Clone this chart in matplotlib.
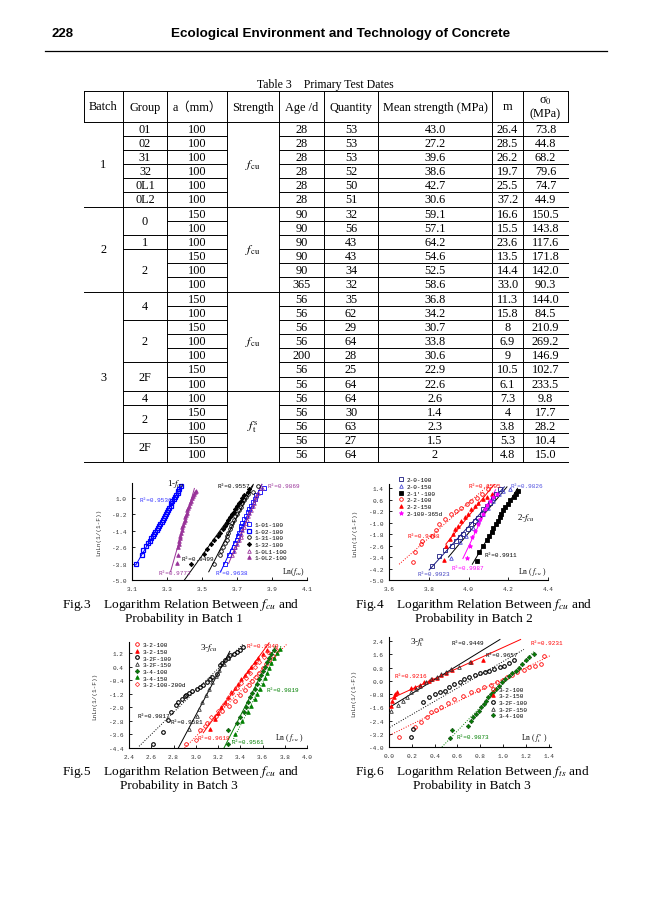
import numpy as np
import matplotlib.pyplot as plt
from matplotlib.font_manager import FontProperties

plt.rcParams['mathtext.fontset'] = 'stix'

SERIF = ['Liberation Serif', 'Noto Sans CJK SC']
MONO = ['Liberation Mono', 'Noto Sans CJK SC']

# ---------------- Table 3 data ----------------
batch = ['1'] * 6 + ['2'] * 6 + ['3'] * 12
group = ['01', '02', '31', '32', '0L1', '0L2',
         '0', '0', '1', '2', '2', '2',
         '4', '4', '2', '2', '2', '2F', '2F', '4', '2', '2', '2F', '2F']
size_mm = ['100'] * 6 + ['150', '100', '100', '150', '100', '100'] + \
          ['150', '100', '150', '100', '100', '150', '100', '100', '150', '100', '150', '100']
strength = ['cu'] * 19 + ['t'] * 5
age = ['28'] * 6 + ['90', '90', '90', '90', '90', '365'] + \
      ['56', '56', '56', '56', '200', '56', '56', '56', '56', '56', '56', '56']
quantity = ['53', '53', '53', '52', '50', '51', '32', '56', '43', '43', '34', '32',
            '35', '62', '29', '64', '28', '25', '64', '64', '30', '63', '27', '64']
mean_str = ['43.0', '27.2', '39.6', '38.6', '42.7', '30.6', '59.1', '57.1', '64.2', '54.6', '52.5', '58.6',
            '36.8', '34.2', '30.7', '33.8', '30.6', '22.9', '22.6', '2.6', '1.4', '2.3', '1.5', '2']
m_val = ['26.4', '28.5', '26.2', '19.7', '25.5', '37.2', '16.6', '15.5', '23.6', '13.5', '14.4', '33.0',
         '11.3', '15.8', '8', '6.9', '9', '10.5', '6.1', '7.3', '4', '3.8', '5.3', '4.8']
sigma0 = ['73.8', '44.8', '68.2', '79.6', '74.7', '44.9', '150.5', '143.8', '117.6', '171.8', '142.0', '90.3',
          '144.0', '84.5', '210.9', '269.2', '146.9', '102.7', '233.5', '9.8', '17.7', '28.2', '10.4', '15.0']

# ---------------- Fig.3 (batch 1) ----------------
f3_01_x = [3.63, 3.655, 3.67, 3.68, 3.69, 3.70, 3.705, 3.71, 3.72, 3.725, 3.73, 3.74, 3.75, 3.76, 3.77,
           3.78, 3.79, 3.80, 3.81, 3.83, 3.855]
f3_01_y = [-3.83, -3.2, -2.85, -2.55, -2.3, -2.05, -1.8, -1.55, -1.3, -1.05, -0.8, -0.55, -0.3, -0.05, 0.2,
           0.45, 0.7, 0.95, 1.2, 1.45, 1.75]
f3_02_x = [3.125, 3.155, 3.165, 3.18, 3.19, 3.20, 3.21, 3.22, 3.225, 3.23, 3.24, 3.25, 3.255, 3.26, 3.27,
           3.275, 3.28, 3.29, 3.295, 3.30, 3.305, 3.31, 3.32, 3.325, 3.33, 3.34, 3.345, 3.35, 3.36, 3.365,
           3.37, 3.38]
f3_02_y = [-3.85, -3.17, -2.8, -2.5, -2.3, -2.12, -1.95, -1.8, -1.65, -1.5, -1.35, -1.2, -1.05, -0.9, -0.75,
           -0.6, -0.45, -0.3, -0.15, 0.0, 0.15, 0.3, 0.45, 0.6, 0.75, 0.9, 1.05, 1.2, 1.35, 1.5, 1.65, 1.85]
f3_31_x = [3.57, 3.6, 3.61, 3.62, 3.63, 3.64, 3.645, 3.65, 3.66, 3.665, 3.67, 3.68, 3.69, 3.70, 3.71,
           3.72, 3.73, 3.74, 3.75, 3.76, 3.79, 3.82]
f3_31_y = [-3.83, -3.17, -2.85, -2.55, -2.3, -2.05, -1.8, -1.55, -1.3, -1.05, -0.8, -0.6, -0.35, -0.15, 0.1,
           0.35, 0.6, 0.85, 1.05, 1.3, 1.45, 1.85]
f3_32_x = [3.437, 3.51, 3.53, 3.55, 3.57, 3.59, 3.60, 3.62, 3.63, 3.64, 3.65, 3.66, 3.67, 3.68, 3.69,
           3.70, 3.71, 3.72, 3.73, 3.74, 3.76, 3.77]
f3_32_y = [-3.83, -3.1, -2.73, -2.4, -2.05, -1.8, -1.55, -1.3, -1.05, -0.85, -0.6, -0.4, -0.2, 0.0, 0.2,
           0.4, 0.6, 0.8, 1.0, 1.2, 1.45, 1.65]
f3_0L1_x = [3.673, 3.68, 3.69, 3.70, 3.71, 3.72, 3.725, 3.73, 3.74, 3.75, 3.755, 3.76, 3.77, 3.78, 3.79,
            3.795, 3.80, 3.81, 3.82, 3.84]
f3_0L1_y = [-3.17, -2.9, -2.6, -2.35, -2.1, -1.85, -1.6, -1.35, -1.1, -0.85, -0.6, -0.35, -0.1, 0.15, 0.4,
            0.65, 0.9, 1.15, 1.4, 1.7]
f3_0L2_x = [3.356, 3.36, 3.362, 3.366, 3.37, 3.373, 3.376, 3.38, 3.384, 3.388, 3.392, 3.396, 3.40, 3.404,
            3.408, 3.412, 3.416, 3.42, 3.425, 3.43, 3.435, 3.44, 3.446, 3.452, 3.458, 3.465]
f3_0L2_y = [-3.78, -3.17, -2.6, -2.35, -2.15, -1.95, -1.75, -1.55, -1.35, -1.15, -0.95, -0.78, -0.6, -0.42,
            -0.25, -0.08, 0.1, 0.27, 0.45, 0.62, 0.8, 0.97, 1.12, 1.27, 1.42, 1.55]

# ---------------- Fig.4 (batch 2) ----------------
f4_0_100_x = [3.817, 3.851, 3.881, 3.919, 3.939, 3.956, 3.973, 3.998, 4.015, 4.032, 4.049, 4.066, 4.075,
              4.092, 4.108, 4.125, 4.139, 4.159]
f4_0_100_y = [-4.0, -3.31, -2.92, -2.61, -2.27, -2.03, -1.8, -1.45, -1.11, -0.87, -0.64, -0.41, -0.06,
              0.17, 0.4, 0.75, 1.03, 1.33]
f4_0_150_x = [3.91, 3.956, 3.986, 4.024, 4.049, 4.075, 4.10, 4.125, 4.151, 4.173, 4.21]
f4_0_150_y = [-3.47, -2.38, -1.92, -1.34, -0.87, -0.41, 0.05, 0.52, 0.98, 1.21, 1.33]
f4_1_100_x = [4.041, 4.054, 4.075, 4.092, 4.105, 4.117, 4.125, 4.137, 4.146, 4.156, 4.163, 4.173, 4.185,
              4.197, 4.21, 4.227, 4.241, 4.247]
f4_1_100_y = [-3.7, -3.08, -2.61, -2.22, -1.92, -1.62, -1.34, -1.11, -0.87, -0.6, -0.36, -0.13, 0.1,
              0.33, 0.56, 0.8, 1.03, 1.21]
f4_2_100_x = [3.719, 3.732, 3.761, 3.766, 3.817, 3.834, 3.854, 3.88, 3.914, 3.939, 3.964, 3.99, 4.015,
              4.041, 4.066, 4.10]
f4_2_100_y = [-3.77, -3.08, -2.5, -2.27, -1.92, -1.52, -1.11, -0.76, -0.41, -0.18, 0.05, 0.29, 0.52,
              0.75, 0.98, 1.33]
f4_2_150_x = [3.876, 3.888, 3.905, 3.922, 3.93, 3.947, 3.964, 3.981, 3.998, 4.015, 4.032, 4.049, 4.075,
              4.092, 4.117]
f4_2_150_y = [-3.59, -2.61, -2.15, -1.8, -1.45, -1.22, -0.87, -0.6, -0.36, -0.06, 0.17, 0.4, 0.63,
              0.8, 0.98]
f4_365_x = [3.993, 4.007, 4.02, 4.032, 4.046, 4.058, 4.071, 4.083, 4.095, 4.108, 4.125, 4.142]
f4_365_y = [-3.43, -2.61, -2.03, -1.57, -1.11, -0.76, -0.36, -0.06, 0.24, 0.52, 0.8, 1.03]

# ---------------- Fig.5 (batch 3, f_cu) ----------------
f5_2_100_x = [2.91, 3.04, 3.10, 3.18, 3.24, 3.30, 3.35, 3.40, 3.44, 3.48, 3.51, 3.54, 3.57, 3.60, 3.63,
              3.66, 3.69, 3.72]
f5_2_100_y = [-4.15, -3.32, -2.9, -2.5, -2.2, -1.9, -1.6, -1.3, -1.0, -0.7, -0.45, -0.2, 0.05, 0.3, 0.55,
              0.8, 1.05, 1.35]
f5_2_150_x = [3.13, 3.17, 3.20, 3.23, 3.26, 3.29, 3.32, 3.35, 3.38, 3.41, 3.44, 3.47, 3.50, 3.53, 3.56,
              3.60, 3.64]
f5_2_150_y = [-3.26, -2.7, -2.35, -2.0, -1.7, -1.4, -1.1, -0.85, -0.6, -0.35, -0.1, 0.15, 0.4, 0.65, 0.9,
              1.15, 1.4]
f5_2F_100_x = [2.618, 2.708, 2.753, 2.775, 2.822, 2.84, 2.874, 2.90, 2.912, 2.94, 2.964, 3.008, 3.04,
               3.068, 3.10, 3.128, 3.15, 3.188, 3.218, 3.24, 3.263, 3.29, 3.308, 3.34, 3.368, 3.40, 3.428]
f5_2F_100_y = [-4.15, -3.46, -2.77, -2.28, -1.89, -1.7, -1.49, -1.35, -1.26, -1.15, -1.06, -0.95, -0.8,
               -0.67, -0.5, -0.31, -0.2, -0.02, 0.47, 0.6, 0.77, 0.9, 1.06, 1.15, 1.26, 1.4, 1.55]
f5_2F_150_x = [2.942, 3.008, 3.03, 3.06, 3.09, 3.12, 3.15, 3.18, 3.21, 3.25, 3.29]
f5_2F_150_y = [-3.26, -2.51, -2.1, -1.7, -1.3, -0.9, -0.5, -0.15, 0.2, 0.55, 0.9]
f5_4_100_x = [3.29, 3.29, 3.37, 3.40, 3.43, 3.45, 3.47, 3.49, 3.51, 3.53, 3.55, 3.57, 3.59, 3.60, 3.62,
              3.64, 3.66, 3.68, 3.70]
f5_4_100_y = [-4.15, -3.36, -2.9, -2.6, -2.3, -2.0, -1.7, -1.4, -1.15, -0.9, -0.6, -0.35, -0.1, 0.15, 0.4,
              0.65, 0.9, 1.15, 1.4]
f5_4_150_x = [3.35, 3.42, 3.47, 3.50, 3.53, 3.55, 3.58, 3.60, 3.62, 3.64, 3.66, 3.68, 3.70, 3.73, 3.76]
f5_4_150_y = [-3.55, -2.8, -2.3, -1.9, -1.5, -1.2, -0.9, -0.6, -0.3, 0.0, 0.3, 0.6, 0.9, 1.2, 1.45]
f5_200d_x = [3.00, 3.08, 3.14, 3.20, 3.25, 3.29, 3.33, 3.37, 3.41, 3.45, 3.49, 3.53, 3.57, 3.61, 3.65]
f5_200d_y = [-3.9, -3.1, -2.6, -2.2, -1.8, -1.45, -1.15, -0.85, -0.55, -0.25, 0.05, 0.35, 0.65, 0.95, 1.25]

# ---------------- Fig.6 (batch 3, f_t^s) ----------------
f6_2_100_x = [0.087, 0.226, 0.284, 0.33, 0.371, 0.41, 0.458, 0.52, 0.574, 0.65, 0.719, 0.78, 0.835, 0.89,
              0.951, 1.0, 1.038, 1.08, 1.125, 1.18, 1.226, 1.28, 1.328, 1.357]
f6_2_100_y = [-3.38, -2.81, -2.51, -2.2, -1.9, -1.75, -1.6, -1.35, -1.1, -0.9, -0.7, -0.55, -0.4, -0.25,
              -0.09, 0.05, 0.21, 0.35, 0.51, 0.65, 0.81, 0.9, 1.01, 1.51]
f6_2_150_x = [0.02, 0.03, 0.04, 0.05, 0.07, 0.19, 0.23, 0.27, 0.31, 0.35, 0.38, 0.42, 0.46, 0.50, 0.55,
              0.72, 0.82]
f6_2_150_y = [-1.55, -1.2, -1.0, -0.8, -0.65, -0.45, -0.35, -0.25, -0.1, 0.0, 0.1, 0.2, 0.35, 0.5, 0.65,
              1.15, 1.25]
f6_2F_100_x = [0.19, 0.21, 0.30, 0.35, 0.40, 0.45, 0.49, 0.53, 0.57, 0.62, 0.66, 0.70, 0.75, 0.80, 0.84,
               0.88, 0.92, 0.97, 1.01, 1.05, 1.10]
f6_2F_100_y = [-3.41, -2.9, -1.3, -1.0, -0.8, -0.7, -0.6, -0.4, -0.2, -0.05, 0.11, 0.25, 0.35, 0.45, 0.51,
               0.6, 0.71, 0.82, 0.91, 1.05, 1.25]
f6_2F_150_x = [0.015, 0.08, 0.125, 0.16, 0.197, 0.235, 0.27, 0.32, 0.371, 0.42, 0.458, 0.50, 0.545, 0.617,
               0.713]
f6_2F_150_y = [-1.81, -1.45, -1.2, -0.95, -0.7, -0.5, -0.3, -0.1, 0.1, 0.25, 0.41, 0.55, 0.71, 0.81, 1.15]
f6_4_100_x = [0.539, 0.551, 0.696, 0.719, 0.74, 0.762, 0.785, 0.806, 0.83, 0.849, 0.87, 0.893, 0.915,
              0.936, 0.965, 0.994, 1.02, 1.052, 1.08, 1.11, 1.14, 1.168, 1.20, 1.23, 1.27]
f6_4_100_y = [-3.46, -2.98, -2.71, -2.41, -2.2, -2.0, -1.8, -1.6, -1.4, -1.2, -1.0, -0.8, -0.65, -0.5,
              -0.3, -0.09, 0.1, 0.31, 0.45, 0.61, 0.8, 1.01, 1.25, 1.45, 1.6]

# ---------------- page ----------------
W, H = 650, 920
fig = plt.figure(figsize=(6.5, 9.2), dpi=100)
page = fig.add_axes([0, 0, 1, 1])
page.set_xlim(0, W)
page.set_ylim(H, 0)
page.axis('off')

page.text(52, 34, '228', family='Liberation Sans', fontweight='bold', fontsize=9.5, va='center')
page.text(341, 34, 'Ecological Environment and Technology of Concrete', family='Liberation Sans',
          fontweight='bold', fontsize=9.7, ha='center', va='center')
page.plot([45, 607], [52, 52], color='black', lw=0.9)

# ---------------- table ----------------
page.text(325, 85, 'Table 3    Primary Test Dates', family=SERIF, fontsize=8.5, ha='center', va='center')
edges = [84, 123, 167, 227, 279, 324, 378, 492, 523, 568]
top, head_bot, row_h = 92, 122.5, 14.17
n = len(group)


def row_y(i):
    return head_bot + i * row_h


tk = dict(family=SERIF, fontsize=8.8, ha='center', va='center')
heads = ['Batch', 'Group', 'a（mm）', 'Strength', 'Age /d', 'Quantity', 'Mean strength (MPa)', 'm']
for c, h in enumerate(heads):
    page.text((edges[c] + edges[c + 1]) / 2, 107.5, h, **tk)
xs0 = (edges[8] + edges[9]) / 2
page.text(xs0, 100.5, 'σ$_0$', **tk)
page.text(xs0, 114, '(MPa)', **tk)

strength_lbl = {'cu': '$f_{\\rm cu}$', 't': '$f_{\\rm t}^{\\rm s}$'}
col_keys = [batch, list(zip(batch, group)), list(range(n)), list(zip(batch, strength))] + [list(range(n))] * 5
col_text = [batch, group, size_mm, [strength_lbl[s] for s in strength], age, quantity, mean_str, m_val, sigma0]

lw = 0.7
for c in range(9):
    keys = col_keys[c]
    start = 0
    for i in range(1, n + 1):
        if i == n or keys[i] != keys[i - 1]:
            yc = (row_y(start) + row_y(i)) / 2
            page.text((edges[c] + edges[c + 1]) / 2, yc, col_text[c][start], **tk)
            if i < n:
                page.plot([edges[c], edges[c + 1]], [row_y(i), row_y(i)], color='black', lw=lw)
            start = i
bottom = row_y(n)
for yy in [top, head_bot, bottom]:
    page.plot([edges[0], edges[-1]], [yy, yy], color='black', lw=lw)
for xx in edges[1:-1]:
    page.plot([xx, xx], [top, bottom], color='black', lw=lw)
for xx in [edges[0], edges[-1]]:
    page.plot([xx, xx], [top, head_bot], color='black', lw=lw)


# ---------------- plot helpers ----------------
def make_axes(l, t, r, b, xlim, ylim, xticks, yticks):
    ax = fig.add_axes([l / W, 1 - b / H, (r - l) / W, (b - t) / H])
    ax.patch.set_alpha(0)
    ax.set_xlim(xlim)
    ax.set_ylim(ylim)
    for s in ['top', 'right']:
        ax.spines[s].set_visible(False)
    for s in ['left', 'bottom']:
        ax.spines[s].set_linewidth(0.8)
    ax.set_xticks(xticks)
    ax.set_yticks(yticks)
    ax.set_xticklabels(['%.1f' % v for v in xticks])
    ax.set_yticklabels(['%.1f' % v for v in yticks])
    for lab in ax.get_xticklabels() + ax.get_yticklabels():
        lab.set_fontfamily(MONO)
    ax.tick_params(direction='in', length=2, width=0.6, labelsize=4.4, labelcolor='#333333', pad=4)
    return ax


def pts(ax, x, y, marker, color, label, filled=True, ms=2.6, mew=0.6, fc=None):
    face = fc if fc is not None else (color if filled else 'none')
    ax.plot(x, y, linestyle='none', marker=marker, markersize=ms, markeredgecolor=color,
            markerfacecolor=face, markeredgewidth=mew, label=label, zorder=3)


def trend(ax, x, y, yr, color, ls='-'):
    k, b = np.polyfit(x, y, 1)
    yy = np.array(yr)
    ax.plot((yy - b) / k, yy, color=color, lw=0.7, ls=ls, zorder=2)


def legend(ax, anchor):
    ax.legend(loc='upper left', bbox_to_anchor=anchor, frameon=False, numpoints=1,
              prop=FontProperties(family=MONO, size=4.3), handlelength=0.8, handletextpad=0.6,
              labelspacing=0.25, borderpad=0, borderaxespad=0)


def r2(ax, items):
    for txt, x, y, col in items:
        ax.text(x, y, txt, family=MONO, fontsize=4.3, color=col, va='center')


def ylab(ax, xf):
    ax.text(xf, 0.5, 'LnLn(1/(1-F))', family=MONO, fontsize=4.4, color='#333333', rotation=90,
            ha='center', va='center', transform=ax.transAxes)


def caption(x1, y1, line1, xc2, line2):
    page.text(x1, y1, line1, family=SERIF, fontsize=9.6, va='center')
    page.text(xc2, y1 + 14, line2, family=SERIF, fontsize=9.6, ha='center', va='center')


BLUE, PURPLE, RED, GREEN, MAG = '#0000FF', '#993399', '#FF0000', '#008000', '#FF00FF'
NAVY, SLATE = '#1A1A80', '#4B4BD6'

# ---------------- Fig.3 ----------------
ax3 = make_axes(132, 484, 307, 581, (3.1, 4.1), (-5.0, 2.1),
                [3.1, 3.3, 3.5, 3.7, 3.9, 4.1], [-5.0, -3.8, -2.6, -1.4, -0.2, 1.0])
pts(ax3, f3_01_x, f3_01_y, 's', BLUE, '1-01-100', filled=False)
pts(ax3, f3_02_x, f3_02_y, 's', BLUE, '1-02-100', filled=False, mew=0.9)
pts(ax3, f3_31_x, f3_31_y, 'o', 'black', '1-31-100', filled=False)
pts(ax3, f3_32_x, f3_32_y, 'D', 'black', '1-32-100', ms=2.2)
pts(ax3, f3_0L1_x, f3_0L1_y, '^', PURPLE, '1-0L1-100', filled=False)
pts(ax3, f3_0L2_x, f3_0L2_y, '^', PURPLE, '1-0L2-100')
trend(ax3, f3_02_x, f3_02_y, (-3.9, 2.0), BLUE)
trend(ax3, f3_0L2_x, f3_0L2_y, (-4.4, 1.7), PURPLE)
trend(ax3, f3_32_x, f3_32_y, (-5.0, 2.0), 'black')
trend(ax3, f3_31_x, f3_31_y, (-4.4, 1.9), 'black')
trend(ax3, f3_01_x, f3_01_y, (-4.4, 2.0), BLUE)
trend(ax3, f3_0L1_x, f3_0L1_y, (-3.8, 2.0), PURPLE)
r2(ax3, [('R²=0.9536', 3.14, 0.9, '#3333FF'), ('R²=0.9557', 3.587, 1.9, 'black'),
         ('R²=0.9869', 3.875, 1.9, PURPLE), ('R²=0.9499', 3.385, -3.46, 'black'),
         ('R²=0.9772', 3.25, -4.44, PURPLE), ('R²=0.9638', 3.577, -4.44, '#3333FF')])
ax3.text(0.2, 1.0, '1-$f_{cu}$', family=SERIF, fontsize=6.5, transform=ax3.transAxes, va='center')
ax3.text(0.985, 0.09, 'Ln($f_{cu}$)', family=SERIF, fontsize=5.5, transform=ax3.transAxes,
         ha='right', va='center')
legend(ax3, (0.655, 0.6))
ylab(ax3, -0.19)
caption(62, 605, 'Fig.3    Logarithm Relation Between $f_{cu}$ and', 184, 'Probability in Batch 1')

# ---------------- Fig.4 ----------------
ax4 = make_axes(389, 485, 548, 581, (3.6, 4.4), (-5.0, 1.7),
                [3.6, 3.8, 4.0, 4.2, 4.4], [-5.0, -4.2, -3.4, -2.6, -1.8, -1.0, -0.2, 0.6, 1.4])
pts(ax4, f4_0_100_x, f4_0_100_y, 's', NAVY, '2-0-100', filled=False)
pts(ax4, f4_0_150_x, f4_0_150_y, '^', SLATE, '2-0-150', filled=False)
pts(ax4, f4_1_100_x, f4_1_100_y, 's', 'black', "2-1'-100")
pts(ax4, f4_2_100_x, f4_2_100_y, 'o', RED, '2-2-100', filled=False)
pts(ax4, f4_2_150_x, f4_2_150_y, '^', RED, '2-2-150')
pts(ax4, f4_365_x, f4_365_y, '*', MAG, '2-100-365d', ms=3.2)
trend(ax4, f4_0_100_x, f4_0_100_y, (-4.3, 1.5), NAVY)
trend(ax4, f4_0_150_x, f4_0_150_y, (-3.4, 1.5), 'black')
trend(ax4, f4_1_100_x, f4_1_100_y, (-3.9, 1.4), 'black')
trend(ax4, f4_2_100_x, f4_2_100_y, (-3.9, 1.7), RED, ':')
trend(ax4, f4_2_150_x, f4_2_150_y, (-2.5, 1.7), RED)
trend(ax4, f4_365_x, f4_365_y, (-3.5, 1.3), MAG)
r2(ax4, [('R²=0.8505', 3.998, 1.6, RED), ('R²=0.9826', 4.21, 1.6, '#5050E0'),
         ('R²=0.9448', 3.693, -1.92, RED), ('R²=0.9911', 4.083, -3.19, 'black'),
         ('R²=0.9987', 3.914, -4.12, MAG), ('R²=0.9923', 3.744, -4.54, '#4040C0')])
ax4.text(0.805, 0.656, '2-$f_{cu}$', family=SERIF, fontsize=6.5, transform=ax4.transAxes, va='center')
ax4.text(0.99, 0.09, 'Ln ( $f_{cu}$ )', family=SERIF, fontsize=5.5, transform=ax4.transAxes,
         ha='right', va='center')
legend(ax4, (0.06, 1.07))
ylab(ax4, -0.215)
caption(355, 605, 'Fig.4    Logarithm Relation Between $f_{cu}$ and', 474, 'Probability in Batch 2')

# ---------------- Fig.5 ----------------
ax5 = make_axes(129, 643, 307, 749, (2.4, 4.0), (-4.4, 1.85),
                [2.4, 2.6, 2.8, 3.0, 3.2, 3.4, 3.6, 3.8, 4.0],
                [-4.4, -3.6, -2.8, -2.0, -1.2, -0.4, 0.4, 1.2])
pts(ax5, f5_2_100_x, f5_2_100_y, 'o', RED, '3-2-100', filled=False)
pts(ax5, f5_2_150_x, f5_2_150_y, '^', RED, '3-2-150')
pts(ax5, f5_2F_100_x, f5_2F_100_y, 'o', 'black', '3-2F-100', filled=False, mew=0.8)
pts(ax5, f5_2F_150_x, f5_2F_150_y, '^', '#333333', '3-2F-150', filled=False)
pts(ax5, f5_4_100_x, f5_4_100_y, 'D', '#1E5E1E', '3-4-100', fc=GREEN, ms=2.2)
pts(ax5, f5_4_150_x, f5_4_150_y, '^', GREEN, '3-4-150')
pts(ax5, f5_200d_x, f5_200d_y, 'D', '#FF4040', '3-2-100-200d', filled=False, ms=2.2)
trend(ax5, f5_2F_100_x, f5_2F_100_y, (-4.3, 1.7), 'black', ':')
trend(ax5, f5_2F_150_x, f5_2F_150_y, (-4.4, 1.3), 'black')
trend(ax5, f5_2_100_x, f5_2_100_y, (-4.4, 1.7), RED, ':')
trend(ax5, f5_2_150_x, f5_2_150_y, (-3.5, 1.8), RED)
trend(ax5, f5_4_100_x, f5_4_100_y, (-4.4, 1.6), GREEN)
trend(ax5, f5_4_150_x, f5_4_150_y, (-4.0, 1.6), GREEN, ':')
r2(ax5, [('R²=0.8849', 3.46, 1.65, RED), ('R²=0.9819', 3.64, -0.95, GREEN),
         ('R²=0.9817', 2.48, -2.51, 'black'), ('R²=0.9581', 2.77, -2.85, 'black'),
         ('R²=0.9618', 3.02, -3.81, RED), ('R²=0.9561', 3.32, -3.99, GREEN)])
ax5.text(0.4, 0.95, '3-$f_{cu}$', family=SERIF, fontsize=6.5, transform=ax5.transAxes, va='center')
ax5.text(0.98, 0.1, 'Ln ( $f_{cu}$ )', family=SERIF, fontsize=5.5, transform=ax5.transAxes,
         ha='right', va='center')
legend(ax5, (0.03, 1.0))
ylab(ax5, -0.19)
caption(62, 772, 'Fig.5    Logarithm Relation Between $f_{cu}$ and', 179, 'Probability in Batch 3')

# ---------------- Fig.6 ----------------
ax6 = make_axes(389, 638, 551, 748, (0.0, 1.42), (-4.0, 2.65),
                [0.0, 0.2, 0.4, 0.6, 0.8, 1.0, 1.2, 1.4],
                [-4.0, -3.2, -2.4, -1.6, -0.8, 0.0, 0.8, 1.6, 2.4])
pts(ax6, f6_2_100_x, f6_2_100_y, 'o', RED, '3-2-100', filled=False)
pts(ax6, f6_2_150_x, f6_2_150_y, '^', RED, '3-2-150')
pts(ax6, f6_2F_100_x, f6_2F_100_y, 'o', 'black', '3-2F-100', filled=False, mew=0.8)
pts(ax6, f6_2F_150_x, f6_2F_150_y, '^', '#333333', '3-2F-150', filled=False)
pts(ax6, f6_4_100_x, f6_4_100_y, 'D', '#1E5E1E', '3-4-100', fc=GREEN, ms=2.2)
trend(ax6, f6_2_150_x, f6_2_150_y, (-1.4, 2.5), RED)
trend(ax6, f6_2F_150_x, f6_2F_150_y, (-2.3, 2.5), 'black')
trend(ax6, f6_2F_100_x, f6_2F_100_y, (-3.6, 1.9), 'black', ':')
trend(ax6, f6_2_100_x, f6_2_100_y, (-3.5, 2.5), RED, ':')
trend(ax6, f6_4_100_x, f6_4_100_y, (-4.0, 1.8), GREEN, ':')
r2(ax6, [('R²=0.9449', 0.545, 2.32, 'black'), ('R²=0.9231', 1.24, 2.32, RED),
         ('R²=0.9657', 0.85, 1.62, 'black'), ('R²=0.9216', 0.052, 0.3, RED),
         ('R²=0.9873', 0.59, -3.38, GREEN)])
ax6.text(0.13, 0.955, '3-$f_{\\rm t}^{\\rm s}$', family=SERIF, fontsize=6.5, transform=ax6.transAxes,
         va='center')
ax6.text(0.98, 0.08, 'Ln ( $f_{\\rm t}^{\\rm s}$ )', family=SERIF, fontsize=5.5, transform=ax6.transAxes,
         ha='right', va='center')
legend(ax6, (0.625, 0.55))
ylab(ax6, -0.215)
caption(355, 772, 'Fig.6    Logarithm Relation Between $f_{ts}$ and', 472, 'Probability in Batch 3')

fig.savefig('out.png', dpi=100)
